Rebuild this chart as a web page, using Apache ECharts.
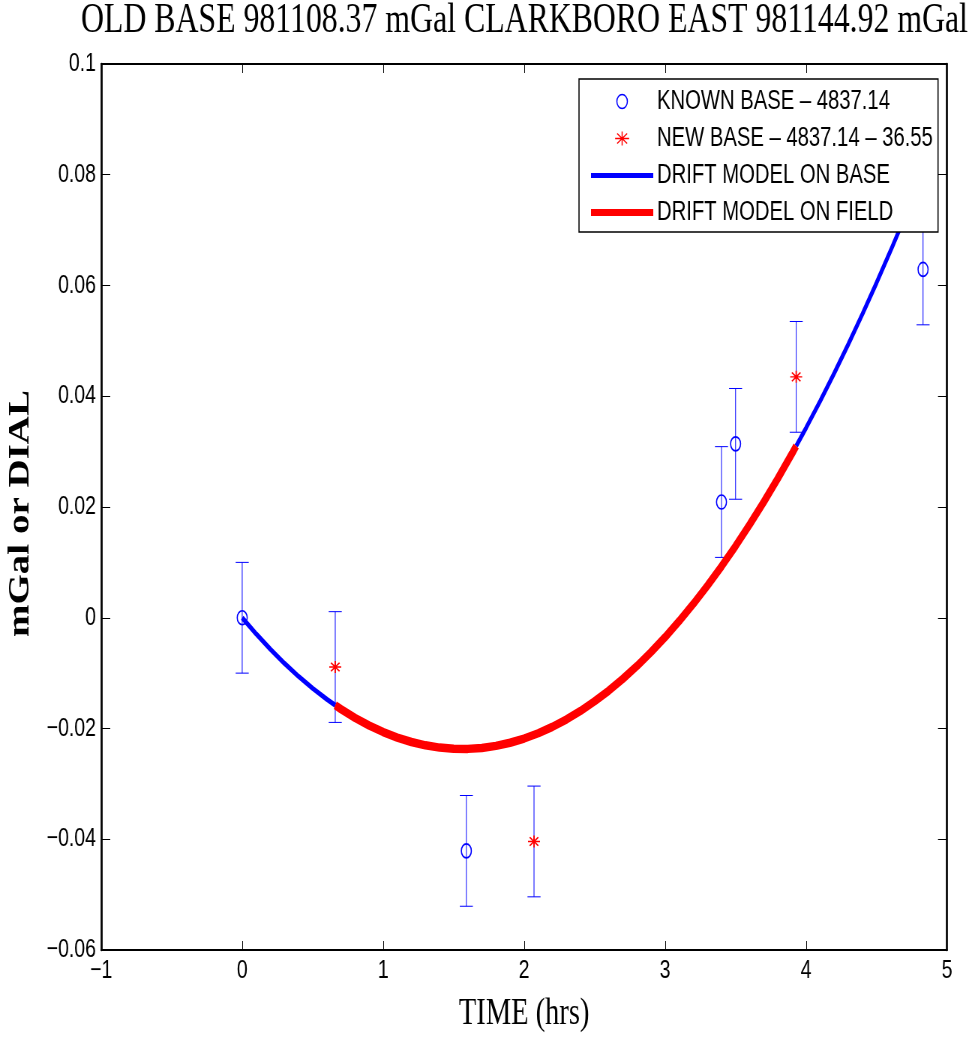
<!DOCTYPE html>
<html>
<head>
<meta charset="utf-8">
<script src="https://cdn.jsdelivr.net/npm/echarts@6/dist/echarts.min.js"></script>
<style>
html,body{margin:0;padding:0;background:#fff;overflow:hidden;}
/* the reference figure is horizontally condensed; draw wider and condense */
#chart{width:1304px;height:1039px;transform:scaleX(0.75);transform-origin:0 0;}
</style>
</head>
<body>
<div id="chart"></div>
<script>
// ---- data ----
const titleText = 'OLD BASE 981108.37 mGal CLARKBORO EAST 981144.92 mGal';
const xAxisName = 'TIME (hrs)';
const yAxisName = 'mGal or DIAL';
const seriesNames = ['KNOWN BASE – 4837.14', 'NEW BASE – 4837.14 – 36.55', 'DRIFT MODEL ON BASE', 'DRIFT MODEL ON FIELD'];

const knownTime = [0, 1.59, 3.40, 3.50, 4.83];
const knownValue = [0, -0.0421, 0.0209, 0.0314, 0.0629];
const knownErr = [0.01, 0.01, 0.01, 0.01, 0.01];

const newTime = [0.66, 2.07, 3.93];
const newValue = [-0.0089, -0.0404, 0.0435];
const newErr = [0.01, 0.01, 0.01];

// drift model on base (start segment)
const driftBaseTimeA = [0, 0.1, 0.2, 0.3, 0.4, 0.5, 0.6, 0.66];
const driftBaseValueA = [0, -0.00294, -0.00569, -0.00824, -0.01060, -0.01276, -0.01472, -0.01581];
// drift model on field
const driftFieldTime = [0.66, 0.7, 0.8, 0.9, 1.0, 1.1, 1.2, 1.3, 1.4, 1.5, 1.6, 1.7, 1.8, 1.9, 2.0, 2.1, 2.2, 2.3, 2.4, 2.5, 2.6, 2.7, 2.8, 2.9, 3.0, 3.1, 3.2, 3.3, 3.4, 3.5, 3.6, 3.7, 3.8, 3.9, 3.93];
const driftFieldValue = [-0.01581, -0.01650, -0.01807, -0.01946, -0.02065, -0.02164, -0.02244, -0.02304, -0.02345, -0.02367, -0.02368, -0.02351, -0.02314, -0.02257, -0.02181, -0.02086, -0.01971, -0.01837, -0.01683, -0.01509, -0.01317, -0.01104, -0.00873, -0.00621, -0.00351, -0.00060, 0.00249, 0.00579, 0.00927, 0.01295, 0.01683, 0.02090, 0.02517, 0.02963, 0.03100];
// drift model on base (end segment)
const driftBaseTimeB = [3.93, 4.0, 4.1, 4.2, 4.3, 4.4, 4.5, 4.6, 4.7, 4.8, 4.83];
const driftBaseValueB = [0.03100, 0.03428, 0.03913, 0.04418, 0.04942, 0.05485, 0.06048, 0.06630, 0.07232, 0.07854, 0.08044];

const xTicks = {min: -1, max: 5, interval: 1};
const yTicks = {min: -0.06, max: 0.1, interval: 0.02};

// ---- build ----
const zip = (a, b) => a.map((v, i) => [v, b[i]]);
const zip3 = (a, b, c) => a.map((v, i) => [v, b[i], c[i]]);
const errData = zip3(knownTime, knownValue, knownErr).concat(zip3(newTime, newValue, newErr));

const BLUE = '#0000ff', RED = '#ff0000';
const ellipsePath = 'path://M7,0A7,7 0 1,1 7,14A7,7 0 1,1 7,0Z';
const starPath = 'path://M8,0L8,12M0,6L16,6M2.3,1.7L13.7,10.3M2.3,10.3L13.7,1.7';
const sans = "'Liberation Sans',Arial,Helvetica,sans-serif";
const serif = "'Liberation Serif','Times New Roman',Times,serif";
const minus = v => String(v).replace('-', '−');

const chart = echarts.init(document.getElementById('chart'), null, {renderer: 'canvas'});
const xCommon = {
  type: 'value', splitLine: {show: false},
  axisLine: {show: true, onZero: false, lineStyle: {color: '#000', width: 2}},
  axisTick: {show: true, inside: true, length: 9, lineStyle: {color: '#000', width: 1}}
};
const yCommon = {
  type: 'value', splitLine: {show: false},
  axisLine: {show: true, onZero: false, lineStyle: {color: '#000', width: 2.7}},
  axisTick: {show: true, inside: true, length: 12, lineStyle: {color: '#000', width: 1}}
};
chart.setOption({
  animation: false,
  backgroundColor: '#fff',
  title: {
    text: titleText, left: 108, top: 0, padding: 0,
    textStyle: {fontFamily: serif, fontSize: 42.4, fontWeight: 'normal', color: '#000'}
  },
  grid: {left: 134.7, right: 41.3, top: 64, bottom: 89, containLabel: false},
  xAxis: [
    Object.assign({}, xCommon, xTicks, {position: 'bottom',
      name: xAxisName, nameLocation: 'middle', nameGap: 45,
      nameTextStyle: {fontFamily: serif, fontSize: 38, color: '#000'},
      axisLabel: {color: '#000', fontFamily: sans, fontSize: 26, margin: 8, formatter: minus}}),
    Object.assign({}, xCommon, xTicks, {position: 'top', axisLabel: {show: false}})
  ],
  yAxis: [
    Object.assign({}, yCommon, yTicks, {position: 'left',
      name: yAxisName, nameLocation: 'middle', nameRotate: 90, nameGap: 88,
      nameTextStyle: {fontFamily: serif, fontSize: 39, fontWeight: 'bold', color: '#000', padding: [0, 13, 0, 0]},
      axisLabel: {color: '#000', fontFamily: sans, fontSize: 26, margin: 7, formatter: minus}}),
    Object.assign({}, yCommon, yTicks, {position: 'right', axisLabel: {show: false}})
  ],
  legend: {
    orient: 'vertical', left: 772, top: 79,
    padding: [9, 7, 6, 16], itemGap: 10, itemWidth: 83, itemHeight: 14,
    backgroundColor: '#fff', borderColor: '#000', borderWidth: 1.5,
    textStyle: {color: '#000', fontFamily: sans, fontSize: 27, lineHeight: 26},
    selectedMode: false,
    data: [
      {name: seriesNames[0], icon: ellipsePath, itemStyle: {color: 'none', borderColor: BLUE, borderWidth: 1.5}},
      {name: seriesNames[1], icon: starPath, itemStyle: {color: 'none', borderColor: RED, borderWidth: 1.5}},
      {name: seriesNames[2], icon: 'path://M0,0H83V5H0Z', itemStyle: {color: BLUE, borderWidth: 0}},
      {name: seriesNames[3], icon: 'path://M0,0H83V7H0Z', itemStyle: {color: RED, borderWidth: 0}}
    ]
  },
  series: [
    {type: 'custom', name: 'errorbars', z: 2, data: errData, encode: {x: 0, y: 1},
      renderItem: function (params, api) {
        const x = api.value(0), y = api.value(1), e = api.value(2);
        const t = api.coord([x, y + e]), b = api.coord([x, y - e]);
        const hw = 8.7, st = {stroke: BLUE, lineWidth: 1};
        return {type: 'group', children: [
          {type: 'line', shape: {x1: t[0], y1: t[1], x2: b[0], y2: b[1]}, style: st},
          {type: 'line', shape: {x1: t[0] - hw, y1: t[1], x2: t[0] + hw, y2: t[1]}, style: st},
          {type: 'line', shape: {x1: b[0] - hw, y1: b[1], x2: b[0] + hw, y2: b[1]}, style: st}
        ]};
      }},
    {type: 'line', name: seriesNames[2], z: 3, data: zip(driftBaseTimeA, driftBaseValueA), showSymbol: false,
      lineStyle: {color: BLUE, width: 5, cap: 'butt'}, itemStyle: {color: BLUE}},
    {type: 'line', name: seriesNames[2], z: 3, data: zip(driftBaseTimeB, driftBaseValueB), showSymbol: false,
      lineStyle: {color: BLUE, width: 5, cap: 'butt'}, itemStyle: {color: BLUE}},
    {type: 'line', name: seriesNames[3], z: 3, data: zip(driftFieldTime, driftFieldValue), showSymbol: false,
      lineStyle: {color: RED, width: 8.5, cap: 'butt'}, itemStyle: {color: RED}},
    {type: 'scatter', name: seriesNames[0], z: 4, data: zip(knownTime, knownValue),
      symbol: ellipsePath, symbolSize: [13.3, 14],
      itemStyle: {color: 'none', borderColor: BLUE, borderWidth: 1.6, opacity: 1}},
    {type: 'scatter', name: seriesNames[1], z: 4, data: zip(newTime, newValue),
      symbol: starPath, symbolSize: [16, 12],
      itemStyle: {color: 'none', borderColor: RED, borderWidth: 1.6, opacity: 1}}
  ]
});
</script>
</body>
</html>
